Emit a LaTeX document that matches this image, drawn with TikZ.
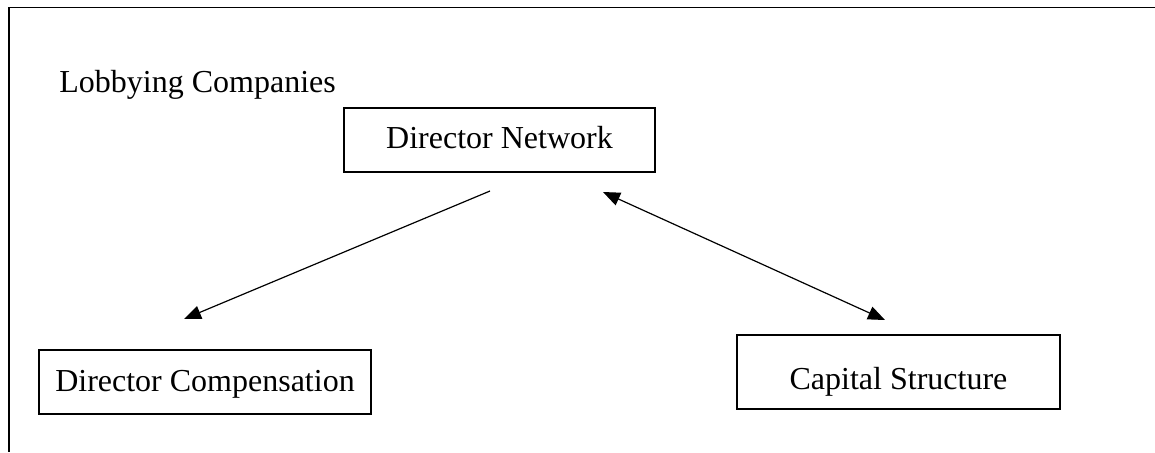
\documentclass[tikz,border=0pt]{standalone}
\usepackage{fontspec}
\setmainfont{Liberation Serif}
\usetikzlibrary{arrows.meta}
\begin{document}
\begin{tikzpicture}[x=0.5pt,y=-0.5pt,
  every node/.style={font=\fontsize{16pt}{19pt}\selectfont},
  boxnode/.style={draw,line width=0.65pt,inner sep=0pt,align=center},
  conn/.style={line width=0.6pt,-{Triangle[length=8.5pt,width=6.8pt]}},
  biconn/.style={line width=0.6pt,{Triangle[length=8.5pt,width=6.8pt]}-{Triangle[length=8.5pt,width=6.8pt]}},
  framel/.style={line width=0.8pt}]
\useasboundingbox (0,0) rectangle (1155,452);
% open outer frame
\coordinate (ftr) at (1155,7.5);
\coordinate (ftl) at (9,7.5);
\coordinate (fbl) at (9,452);
\draw[framel] (ftr) -- (ftl) -- (fbl);
% title
\node[anchor=base west,inner sep=0pt] (title) at (59,92) {Lobbying Companies};
% boxes
\node[boxnode,minimum width=155.5pt,minimum height=32pt,text height=11pt,text depth=3pt] (dn) at (499.5,140) {Director Network};
\node[boxnode,minimum width=166pt,minimum height=32pt,text height=11pt,text depth=2pt] (dc) at (205,382) {Director Compensation};
\node[boxnode,minimum width=161.5pt,minimum height=37pt,text height=20pt,text depth=3pt] (cs) at (898.5,372) {Capital Structure};
% connector ends
\coordinate (a1s) at (490,191);
\coordinate (a1e) at (184,319);
\coordinate (a2s) at (603,192);
\coordinate (a2e) at (885,320);
\draw[conn] (a1s) -- (a1e);
\draw[biconn] (a2s) -- (a2e);
\end{tikzpicture}
\end{document}
